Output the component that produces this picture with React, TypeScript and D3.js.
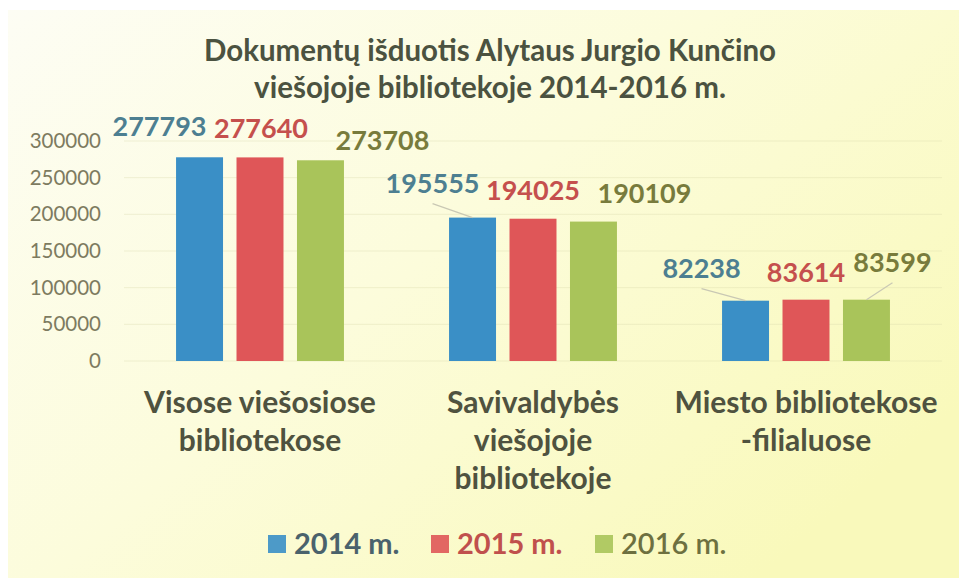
import React, { useEffect } from "react";
import * as d3 from "d3";

// chart values
const categories: string[][] = [
  ["Visose viešosiose", "bibliotekose"],
  ["Savivaldybės", "viešojoje", "bibliotekoje"],
  ["Miesto bibliotekose", "-filialuose"],
];
const seriesNames = ["2014 m.", "2015 m.", "2016 m."];
const values2014 = [277793, 195555, 82238];
const values2015 = [277640, 194025, 83614];
const values2016 = [273708, 190109, 83599];
const yTicks = [0, 50000, 100000, 150000, 200000, 250000, 300000];
const titleLines = [
  "Dokumentų išduotis Alytaus Jurgio Kunčino",
  "viešojoje bibliotekoje 2014-2016 m.",
];

// styling
const barColors = ["#3a8fc6", "#df5658", "#a9c45a"];
const labelColors = ["#4d7f91", "#c5504d", "#787b3c"];
const legendColors = ["#4a626c", "#c0504d", "#6d7040"];
const FONT = "Lato, 'Open Sans', sans-serif";

// manual label placement (dx, dy from bar top centre) as in the original
const labelOffsets: [number, number, boolean][][] = [
  [[-40, -21, false], [1, -19, false], [62, -10, false]],
  [[-40, -25, true], [0, -19, false], [51, -19, false]],
  [[-44, -23, true], [0, -18, false], [26, -28, true]],
];

const W = 959;
const H = 578;

export default function App() {
  useEffect(() => {
    document.body.style.margin = "0";
  }, []);

  const series = [values2014, values2015, values2016];

  const x0 = d3
    .scaleBand<number>()
    .domain(d3.range(categories.length))
    .range([123.5, 942.5])
    .paddingInner(0.385)
    .paddingOuter(0.1925);
  const x1 = d3
    .scaleBand<number>()
    .domain(d3.range(seriesNames.length))
    .range([0, x0.bandwidth()])
    .paddingInner(0.223);
  const y = d3.scaleLinear().domain([0, 300000]).range([361, 141]);

  return (
    <svg width={W} height={H} style={{ display: "block" }} fontFamily={FONT}>
      <defs>
        <linearGradient id="bg" x1="0" y1="0" x2="1" y2="0.7">
          <stop offset="0" stopColor="#fdfdf4" />
          <stop offset="0.5" stopColor="#fcfcdb" />
          <stop offset="1" stopColor="#f9f9bb" />
        </linearGradient>
      </defs>
      <rect width={W} height={H} fill="#ffffff" />
      <rect x={8} y={10} width={W - 8} height={H - 10} fill="url(#bg)" />

      {/* title */}
      {titleLines.map((t, i) => (
        <text
          key={t}
          x={490}
          y={61 + i * 37}
          textAnchor="middle"
          fontSize={29.5}
          fontWeight="bold"
          fill="#4b5240"
        >
          {t}
        </text>
      ))}

      {/* gridlines + y ticks */}
      {yTicks.map((t) => (
        <g key={t}>
          <line
            x1={124}
            x2={942}
            y1={y(t)}
            y2={y(t)}
            stroke="#d8d6a8"
            strokeOpacity={0.35}
          />
          <text
            x={101}
            y={y(t) + 7}
            textAnchor="end"
            fontSize={20.5}
            fill="#7d7b60"
          >
            {t}
          </text>
        </g>
      ))}

      {/* bars */}
      {categories.map((_, ci) => (
        <g key={ci} transform={`translate(${x0(ci)},0)`}>
          {series.map((vals, si) => (
            <rect
              key={si}
              x={x1(si)}
              y={y(vals[ci])}
              width={x1.bandwidth()}
              height={y(0) - y(vals[ci])}
              fill={barColors[si]}
            />
          ))}
        </g>
      ))}

      {/* data labels */}
      {categories.map((_, ci) =>
        series.map((vals, si) => {
          const cx = (x0(ci) as number) + (x1(si) as number) + x1.bandwidth() / 2;
          const top = y(vals[ci]);
          const [dx, dy, leader] = labelOffsets[ci][si];
          return (
            <g key={`${ci}-${si}`}>
              {leader && (
                <line
                  x1={cx + dx}
                  y1={top + dy + 11}
                  x2={cx}
                  y2={top}
                  stroke="#c9c8b4"
                  strokeWidth={1.2}
                />
              )}
              <text
                x={cx + dx}
                y={top + dy}
                textAnchor="middle"
                fontSize={27}
                fontWeight="bold"
                fill={labelColors[si]}
              >
                {vals[ci]}
              </text>
            </g>
          );
        })
      )}

      {/* category labels */}
      {categories.map((lines, ci) => (
        <text
          key={ci}
          x={(x0(ci) as number) + x0.bandwidth() / 2}
          y={413}
          textAnchor="middle"
          fontSize={30}
          fontWeight="bold"
          fill="#4f523f"
        >
          {lines.map((l, li) => (
            <tspan key={li} x={(x0(ci) as number) + x0.bandwidth() / 2} dy={li === 0 ? 0 : 38}>
              {l}
            </tspan>
          ))}
        </text>
      ))}

      {/* legend */}
      {seriesNames.map((s, si) => {
        const lx = [268, 431, 595][si];
        return (
          <g key={s} transform={`translate(${lx},535)`}>
            <rect width={18} height={18} fill={barColors[si]} opacity={0.9} />
            <text
              x={26}
              y={19}
              fontSize={29}
              fontWeight={si === 2 ? 600 : "bold"}
              fill={legendColors[si]}
            >
              {s}
            </text>
          </g>
        );
      })}
    </svg>
  );
}
